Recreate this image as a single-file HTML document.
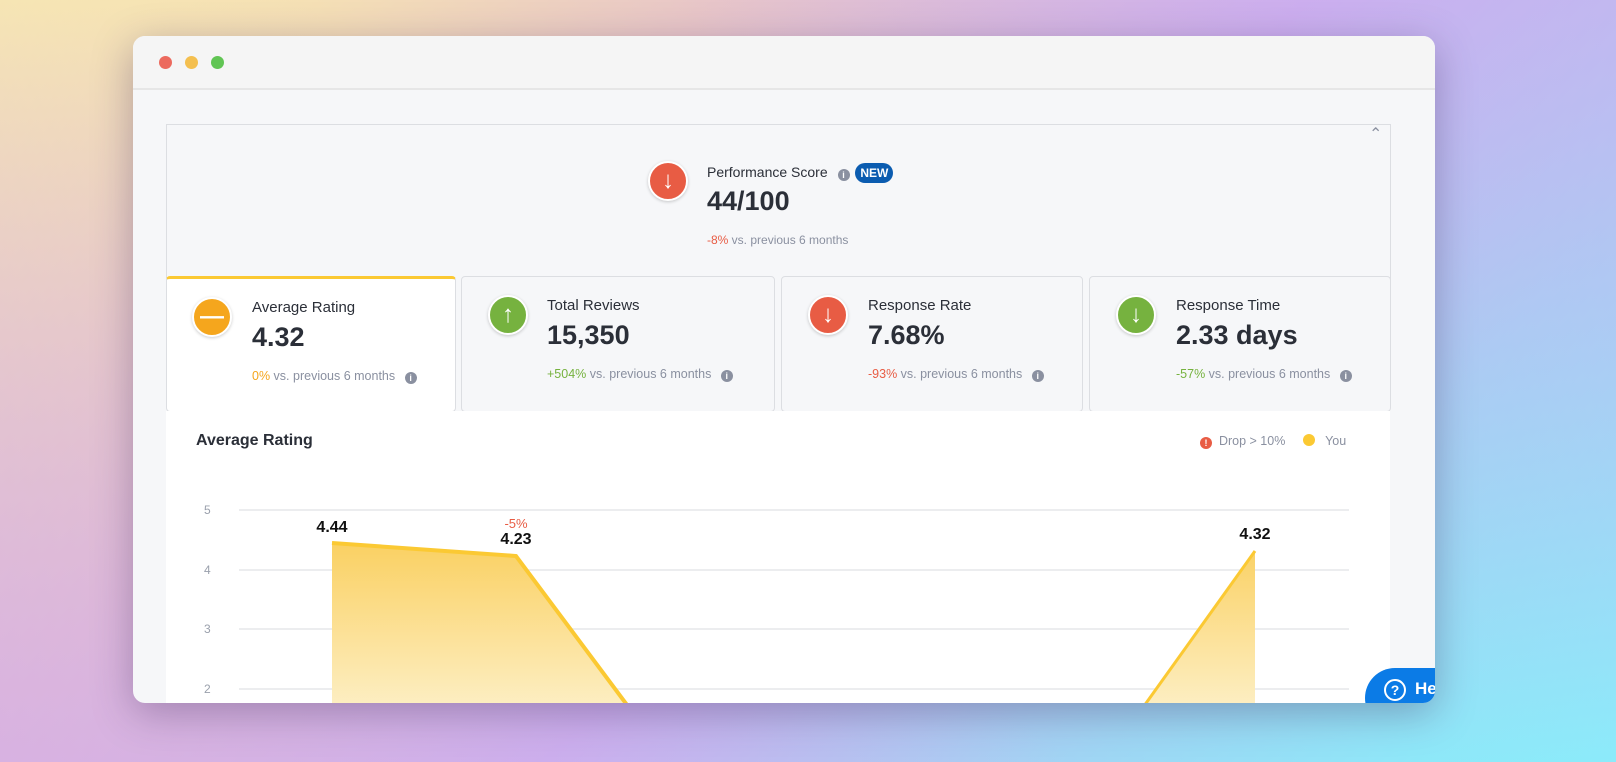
<!DOCTYPE html>
<html><head><meta charset="utf-8"><style>
*{margin:0;padding:0;box-sizing:border-box}
body{width:1616px;height:762px;overflow:hidden;position:relative;font-family:"Liberation Sans",sans-serif;
background:linear-gradient(135deg,#fff4a6 0%,#e8c6c8 30%,#c9b0ee 55%,#9fd6f4 78%,#84f2fb 100%);}
.bg2{position:absolute;inset:0;background:linear-gradient(45deg,rgba(210,170,235,.7) 0%,rgba(210,170,235,0) 45%,rgba(0,0,0,0) 60%,rgba(210,170,240,.5) 100%);}
.win{position:absolute;left:133px;top:36px;width:1302px;height:667px;border-radius:12px;overflow:hidden;background:#f6f7f9;box-shadow:0 10px 40px rgba(60,40,90,.35)}
.tb{position:absolute;left:0;top:0;width:100%;height:54px;background:#f5f5f5;border-bottom:2px solid #e6e6e6}
.dot{position:absolute;top:20px;width:13px;height:13px;border-radius:50%}
.a{position:absolute;white-space:nowrap}
.panel{position:absolute;left:33px;top:88px;width:1225px;height:160px;border:1px solid #dcdee2;border-bottom:none;background:#f6f7f9}
.card{position:absolute;top:240px;height:136px;border:1px solid #dcdee2;border-radius:4px;background:#f6f7f9}
.ic{position:absolute;width:40px;height:40px;border-radius:50%;border:2px solid #fff;box-shadow:0 1px 3px rgba(0,0,0,.2);color:#fff;text-align:center;font-weight:bold;font-size:24px;line-height:35px}
.t{font-size:15px;color:#2b2f38}
.v{font-size:27px;font-weight:bold;color:#2b2f38}
.s{font-size:12.5px;color:#8a90a0}
.i{display:inline-block;width:12px;height:12px;border-radius:50%;background:#8a90a0;color:#fff;font-size:9px;line-height:12px;text-align:center;font-weight:bold;vertical-align:-1px;margin-left:6px}
.chart{position:absolute;left:33px;top:375px;width:1224px;height:300px;background:#fff}
</style></head><body><div class="bg2"></div>
<div class="win">
<div class="tb"><div class="dot" style="left:26px;background:#ec6a5e"></div><div class="dot" style="left:52px;background:#f4bf4f"></div><div class="dot" style="left:78px;background:#61c554"></div></div>
<div class="panel"></div>
<div class="a" style="left:1236px;top:88px;color:#8a90a0;font-size:16px">&#8963;</div>
<div class="ic" style="left:515px;top:125px;background:#e85c44">&#8595;</div>
<div class="a t" style="left:574px;top:127px;font-size:14px">Performance Score <span class="i">i</span> <span style="display:inline-block;background:#0b5cb0;color:#fff;font-weight:bold;font-size:12px;padding:3px 5px;border-radius:11px;margin-left:2px">NEW</span></div>
<div class="a v" style="left:574px;top:150px">44/100</div>
<div class="a s" style="left:574px;top:197px;font-size:12px"><span style="color:#e85c44">-8%</span> vs. previous 6 months</div>

<div class="card" style="left:33px;width:290px;background:#fff;border-top:3px solid #fbc933"></div>
<div class="card" style="left:328px;width:314px"></div>
<div class="card" style="left:648px;width:302px"></div>
<div class="card" style="left:956px;width:302px"></div>

<div class="ic" style="left:59px;top:261px;background:#f5a61d">&#8212;</div>
<div class="a t" style="left:119px;top:263px">Average Rating</div>
<div class="a v" style="left:119px;top:286px">4.32</div>
<div class="a s" style="left:119px;top:333px"><span style="color:#f5a61d">0%</span> vs. previous 6 months <span class="i">i</span></div>

<div class="ic" style="left:355px;top:259px;background:#76b23f">&#8593;</div>
<div class="a t" style="left:414px;top:261px">Total Reviews</div>
<div class="a v" style="left:414px;top:284px">15,350</div>
<div class="a s" style="left:414px;top:331px"><span style="color:#76b23f">+504%</span> vs. previous 6 months <span class="i">i</span></div>

<div class="ic" style="left:675px;top:259px;background:#e85c44">&#8595;</div>
<div class="a t" style="left:735px;top:261px">Response Rate</div>
<div class="a v" style="left:735px;top:284px">7.68%</div>
<div class="a s" style="left:735px;top:331px"><span style="color:#e85c44">-93%</span> vs. previous 6 months <span class="i">i</span></div>

<div class="ic" style="left:983px;top:259px;background:#76b23f">&#8595;</div>
<div class="a t" style="left:1043px;top:261px">Response Time</div>
<div class="a v" style="left:1043px;top:284px">2.33 days</div>
<div class="a s" style="left:1043px;top:331px"><span style="color:#76b23f">-57%</span> vs. previous 6 months <span class="i">i</span></div>

<div class="chart"></div>
<div class="a" style="left:63px;top:396px;font-size:16px;font-weight:bold;color:#2b2f38">Average Rating</div>
<div class="a s" style="left:1067px;top:398px;font-size:12.5px"><span style="display:inline-block;width:12px;height:12px;border-radius:50%;background:#e85c44;color:#fff;font-size:9px;line-height:12px;text-align:center;font-weight:bold;vertical-align:-1px">!</span>&nbsp;&nbsp;Drop &gt; 10%&nbsp;&nbsp;&nbsp;&nbsp;&nbsp;<span style="display:inline-block;width:12px;height:12px;border-radius:50%;background:#fbc933;vertical-align:-1px"></span>&nbsp;&nbsp;&nbsp;You</div>

<svg class="a" style="left:0;top:0" width="1302" height="667">
<defs><linearGradient id="g" x1="0" y1="505" x2="0" y2="680" gradientUnits="userSpaceOnUse"><stop offset="0" stop-color="#fad061"/><stop offset="1" stop-color="#fdf0c8"/></linearGradient></defs>
<g stroke="#e6e7ea" stroke-width="1.5"><line x1="106" y1="474" x2="1216" y2="474"/><line x1="106" y1="534" x2="1216" y2="534"/><line x1="106" y1="593" x2="1216" y2="593"/><line x1="106" y1="653" x2="1216" y2="653"/></g>
<g font-size="12" fill="#9aa0ac" font-family="Liberation Sans"><text x="71" y="478">5</text><text x="71" y="538">4</text><text x="71" y="597">3</text><text x="71" y="657">2</text></g>
<polygon points="199,507 383,520 493,667 1013,667 1122,515 1122,667 199,667" fill="url(#g)"/>
<polyline points="199,507 383,520 500,677" fill="none" stroke="#fbc933" stroke-width="4"/>
<polyline points="1006,677 1122,515" fill="none" stroke="#fbc933" stroke-width="3"/>
<g font-family="Liberation Sans" font-weight="bold" font-size="16" fill="#111" text-anchor="middle"><text x="199" y="496">4.44</text><text x="383" y="508">4.23</text><text x="1122" y="503">4.32</text></g>
<text x="383" y="492" font-family="Liberation Sans" font-size="13" fill="#e85c44" text-anchor="middle">-5%</text>
</svg>
<div class="a" style="left:1232px;top:632px;width:110px;height:60px;border-radius:30px;background:#0b7be6"></div>
<div class="a" style="left:1251px;top:643px;width:22px;height:22px;border-radius:50%;border:2px solid #fff;color:#fff;font-weight:bold;font-size:14px;text-align:center;line-height:18px">?</div>
<div class="a" style="left:1282px;top:643px;color:#fff;font-weight:bold;font-size:17px">He</div>
</div>
</body></html>
